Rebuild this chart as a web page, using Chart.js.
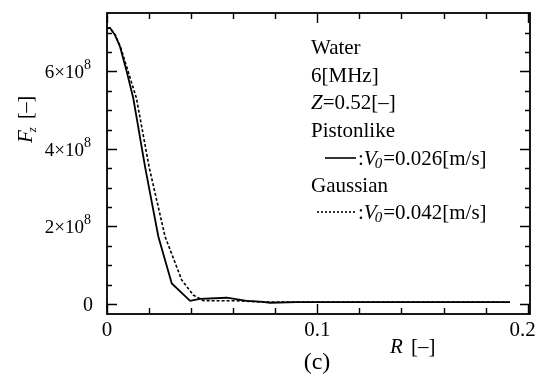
<!DOCTYPE html>
<html>
<head>
<meta charset="utf-8">
<script src="https://cdn.jsdelivr.net/npm/chart.js@4.4.1/dist/chart.umd.min.js"></script>
<style>
  body { margin: 0; background: #fff; }
  canvas { display: block; }
</style>
</head>
<body>
<canvas id="grafiek" width="543" height="374"></canvas>
<script>
// Pistonlike bron (doorgetrokken lijn)
const pistonR = [0, 0.0014, 0.0038, 0.0062, 0.0094, 0.0125, 0.0181, 0.0244, 0.0308, 0.0395, 0.0442, 0.0569, 0.0664, 0.0728, 0.0776, 0.09, 0.1916];
const pistonFz = [7.11e8, 7.13e8, 6.94e8, 6.64e8, 5.99e8, 5.31e8, 3.54e8, 1.74e8, 0.53e8, 0.08e8, 0.13e8, 0.16e8, 0.08e8, 0.06e8, 0.03e8, 0.045e8, 0.045e8];

// Gaussian bron (stippellijn)
const gaussR = [0, 0.0014, 0.004, 0.0065, 0.0101, 0.014, 0.02, 0.0276, 0.0355, 0.041, 0.0458, 0.0632, 0.0728, 0.1916];
const gaussFz = [7.11e8, 7.12e8, 6.94e8, 6.62e8, 5.99e8, 5.31e8, 3.54e8, 1.74e8, 0.62e8, 0.23e8, 0.085e8, 0.08e8, 0.05e8, 0.045e8];

// As-verdeling
const xMajor = [0, 0.1, 0.2];
const xLabels = ["0", "0.1", "0.2"];
const xMinor = [0.02, 0.04, 0.06, 0.08, 0.12, 0.14, 0.16, 0.18];
const yMajor = [0, 2e8, 4e8, 6e8];
const yLabels = ["0", "2", "4", "6"];
const yMinor = [0.5e8, 1e8, 1.5e8, 2.5e8, 3e8, 3.5e8, 4.5e8, 5e8, 5.5e8, 6.5e8, 7e8];

const legendRegels = ["Water", "6[MHz]", "Z=0.52[–]", "Pistonlike", "piston", "Gaussian", "gauss"];

const serif = "'Liberation Serif', 'Times New Roman', serif";

function maakPunten(xs, ys) {
  return xs.map((x, i) => ({ x: x, y: ys[i] }));
}

// Tekent kader, tikjes, labels en legenda
const kaderPlugin = {
  id: "kader",
  afterDraw(chart) {
    const c = chart.ctx;
    const a = chart.chartArea;
    const sx = chart.scales.x;
    const sy = chart.scales.y;
    c.save();
    c.strokeStyle = "#000";
    c.fillStyle = "#000";

    // kader
    c.lineWidth = 1.8;
    c.strokeRect(a.left, a.top, a.right - a.left, a.bottom - a.top);

    // tikjes naar binnen
    c.lineWidth = 1.4;
    c.beginPath();
    xMajor.concat(xMinor).forEach(v => {
      const px = Math.round(sx.getPixelForValue(v)) + 0.5;
      const len = xMajor.includes(v) ? 10 : 6;
      c.moveTo(px, a.bottom); c.lineTo(px, a.bottom - len);
      c.moveTo(px, a.top); c.lineTo(px, a.top + len);
    });
    yMajor.concat(yMinor).forEach(v => {
      const py = Math.round(sy.getPixelForValue(v)) + 0.5;
      const len = yMajor.includes(v) ? 10 : 5;
      c.moveTo(a.left, py); c.lineTo(a.left + len, py);
      c.moveTo(a.right, py); c.lineTo(a.right - len, py);
    });
    c.stroke();

    // x labels
    c.font = "21px " + serif;
    c.textAlign = "center";
    c.textBaseline = "alphabetic";
    xMajor.forEach((v, i) => {
      let px = sx.getPixelForValue(v);
      if (i === xMajor.length - 1) px -= 5;
      c.fillText(xLabels[i], px, 336);
    });

    // y labels met macht
    yMajor.forEach((v, i) => {
      const py = sy.getPixelForValue(v);
      const rechts = 91;
      c.textAlign = "left";
      if (v === 0) {
        c.font = "20px " + serif;
        const w = c.measureText("0").width;
        c.fillText("0", rechts - w + 2, py + 7);
        return;
      }
      c.font = "14px " + serif;
      const wExp = c.measureText("8").width;
      c.font = "19px " + serif;
      const basis = yLabels[i] + "×10";
      const wBasis = c.measureText(basis).width;
      const start = rechts - wExp - wBasis;
      c.fillText(basis, start, py + 7);
      c.font = "14px " + serif;
      c.fillText("8", start + wBasis, py - 2);
    });

    // x titel
    c.textAlign = "left";
    c.font = "italic 21px " + serif;
    c.fillText("R", 390, 353);
    c.font = "21px " + serif;
    c.fillText("[–]", 411, 353);

    // (c)
    c.textAlign = "center";
    c.font = "24px " + serif;
    c.fillText("(c)", 317, 369);

    // y titel (gedraaid)
    c.save();
    c.translate(32, 143);
    c.rotate(-Math.PI / 2);
    c.textAlign = "left";
    c.font = "italic 21px " + serif;
    c.fillText("F", 0, 0);
    let w = c.measureText("F").width;
    c.font = "italic 13px " + serif;
    c.fillText("z", w - 2, 4);
    w += c.measureText("z").width + 6;
    c.font = "20px " + serif;
    c.fillText("[–]", w, 0);
    c.restore();

    // legenda tekst
    const lx = 311;
    const basislijnen = [54, 82, 109, 137, 165, 192, 219];
    legendRegels.forEach((t, i) => {
      const y = basislijnen[i];
      c.textAlign = "left";
      if (t === "Z=0.52[–]") {
        c.font = "italic 21px " + serif;
        c.fillText("Z", lx, y);
        const wz = c.measureText("Z").width;
        c.font = "21px " + serif;
        c.fillText("=0.52[–]", lx + wz, y);
      } else if (t === "piston" || t === "gauss") {
        const ly = y - 7;
        c.beginPath();
        c.lineWidth = 1.6;
        if (t === "piston") {
          c.setLineDash([]);
          c.moveTo(325, ly); c.lineTo(356, ly);
        } else {
          c.setLineDash([2, 2]);
          c.moveTo(317, ly); c.lineTo(355, ly);
        }
        c.stroke();
        c.setLineDash([]);
        let x = 358;
        c.font = "21px " + serif;
        c.fillText(":", x, y);
        x += c.measureText(":").width;
        c.font = "italic 21px " + serif;
        c.fillText("V", x, y);
        x += c.measureText("V").width;
        c.font = "italic 15px " + serif;
        c.fillText("0", x - 2, y + 3);
        x += c.measureText("0").width - 1;
        c.font = "21px " + serif;
        c.fillText(t === "piston" ? "=0.026[m/s]" : "=0.042[m/s]", x, y);
      } else {
        c.font = "21px " + serif;
        c.fillText(t, lx, y);
      }
    });
    c.restore();
  }
};

new Chart(document.getElementById("grafiek").getContext("2d"), {
  type: "scatter",
  data: {
    datasets: [
      {
        label: "Pistonlike",
        data: maakPunten(pistonR, pistonFz),
        showLine: true,
        borderColor: "#000",
        borderWidth: 1.8,
        pointRadius: 0,
        tension: 0
      },
      {
        label: "Gaussian",
        data: maakPunten(gaussR, gaussFz),
        showLine: true,
        borderColor: "#000",
        borderWidth: 1.6,
        borderDash: [3, 2],
        pointRadius: 0,
        tension: 0
      }
    ]
  },
  options: {
    responsive: false,
    animation: false,
    layout: { padding: { left: 107, top: 13, right: 13, bottom: 60 } },
    plugins: { legend: { display: false }, tooltip: { enabled: false } },
    scales: {
      x: { type: "linear", min: 0, max: 0.2011, display: false },
      y: { type: "linear", min: -0.26e8, max: 7.51e8, display: false }
    }
  },
  plugins: [kaderPlugin]
});
</script>
</body>
</html>
